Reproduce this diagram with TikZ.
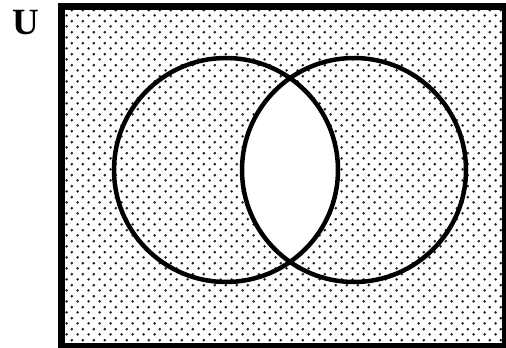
\documentclass[tikz,border=0pt]{standalone}
\usepackage{fontspec}
\setmainfont{Liberation Serif}
\usetikzlibrary{patterns.meta}
\definecolor{DotGray}{RGB}{30,30,30}
\tikzdeclarepattern{
  name=screendots,
  type=colored,
  bounding box={(0pt,0pt) and (10.7pt,10.7pt)},
  tile size={(10.7pt,10.7pt)},
  code={
    \fill[DotGray] (2.675pt,2.675pt) circle (1.5pt);
    \fill[DotGray] (8.025pt,8.025pt) circle (1.5pt);
  }
}
\tikzset{
  universe/.style={line width=7pt,draw=black},
  shaded/.style={pattern=screendots},
  setline/.style={line width=4.5pt,draw=black},
  setlabel/.style={font=\fontsize{37}{37}\selectfont\bfseries,inner sep=0pt}
}
\begin{document}
\begin{tikzpicture}[x=1pt,y=-1pt]
\useasboundingbox (0,0) rectangle (506,348);
% shaded universe
\fill[white] (61.5,6.5) rectangle (505.5,346.5);
\fill[shaded] (61.5,6.5) rectangle (505.5,346.5);
% A and B, intersection left blank
\begin{scope}
  \clip (226,170) circle (112);
  \fill[white] (354,170) circle (112);
\end{scope}
\draw[setline] (226,170) circle (112);
\draw[setline] (354,170) circle (112);
\draw[universe] (61.5,6.5) rectangle (505.5,346.5);
\node[setlabel] (u) at (26,23) {U};
\end{tikzpicture}
\end{document}
